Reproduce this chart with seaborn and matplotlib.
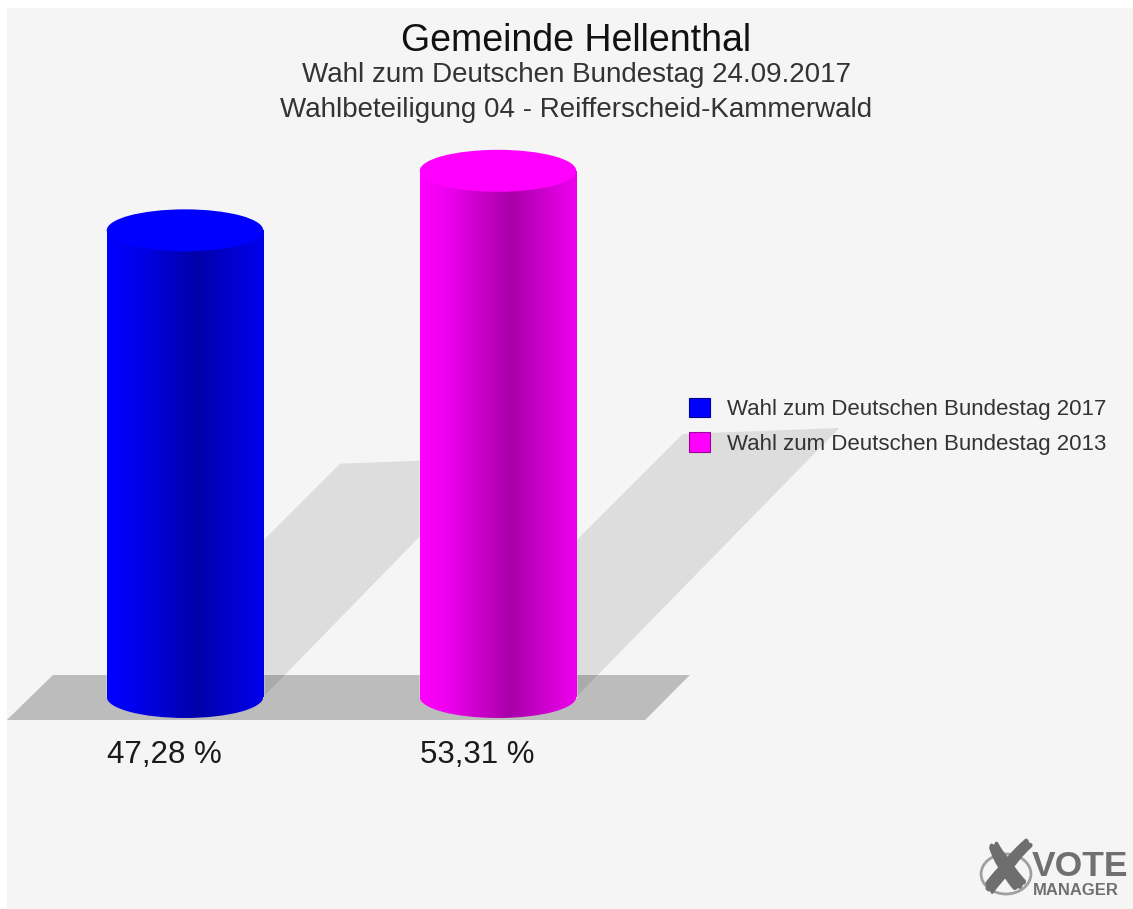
import numpy as np
import pandas as pd
import matplotlib
matplotlib.use("Agg")
import matplotlib.pyplot as plt
import seaborn as sns
from matplotlib.patches import Rectangle, Ellipse, Polygon, Circle

# ---------------- data ----------------
categories = ["Wahl zum Deutschen Bundestag 2017", "Wahl zum Deutschen Bundestag 2013"]
values = [47.28, 53.31]
value_labels = ["47,28 %", "53,31 %"]
colors = ["#0000ff", "#ff00ff"]
title = "Gemeinde Hellenthal"
subtitle1 = "Wahl zum Deutschen Bundestag 24.09.2017"
subtitle2 = "Wahlbeteiligung 04 - Reifferscheid-Kammerwald"

sns.set_theme(style="white")
plt.rcParams["font.family"] = ["Liberation Sans", "DejaVu Sans"]

W, H = 1133, 909
fig = plt.figure(figsize=(W / 100, H / 100), dpi=100, facecolor="white")
# light grey canvas with small white border top/left
fig.patches.append(Rectangle((7 / W, 0), 1, 1 - 8 / H, transform=fig.transFigure,
                             facecolor="#f5f5f5", edgecolor="none", zorder=-10))

ax = fig.add_axes([0, 0, 1, 1])
ax.patch.set_alpha(0)

df = pd.DataFrame({"cat": categories, "val": values})
sns.barplot(data=df, x="cat", y="val", hue="cat", palette=colors, width=0.5,
            errorbar=None, ax=ax, legend=True, zorder=3, saturation=1)

# axis mapping (pixel geometry of the reference)
PX_PER_X = 313.0
PX_PER_Y = 9.87
X0_PX, BASE_PX = 185.0, 697.0
xlim = (-X0_PX / PX_PER_X, (W - X0_PX) / PX_PER_X)
ylim = (-(H - BASE_PX) / PX_PER_Y, BASE_PX / PX_PER_Y)

ell_h = 42 / PX_PER_Y  # ellipse height in data units

# floor
floor_top, floor_bot = 22 / PX_PER_Y, -23 / PX_PER_Y
floor = Polygon([(-0.422, floor_top), (1.613, floor_top), (1.470, floor_bot), (-0.569, floor_bot)],
                closed=True, facecolor="#bcbcbc", edgecolor="none", zorder=1)
ax.add_patch(floor)

def shade_profile(n=200):
    t = np.linspace(0, 1, n)
    return np.interp(t, [0, 0.18, 0.58, 0.85, 1.0], [1.0, 0.93, 0.66, 0.84, 0.93])

prof = shade_profile()
bars = [p for p in ax.patches if isinstance(p, Rectangle) and p.get_height() > 0]
for bar, col in zip(bars, colors):
    x0 = bar.get_x()
    w = bar.get_width()
    h = bar.get_height()
    xc = x0 + w / 2
    # shadow on back wall (45 deg, half height)
    s_px = 0.5 * h * PX_PER_Y
    dx = s_px / PX_PER_X
    dy = 0.5 * h
    shadow = Polygon([(x0, 0), (x0 + w, 0), (x0 + w + dx, dy + 0.6), (x0 + dx, dy)],
                     closed=True, facecolor="black", alpha=0.095, edgecolor="none", zorder=2)
    ax.add_patch(shadow)

    rgb = np.array(matplotlib.colors.to_rgb(col))
    grad = (prof[:, None] * rgb[None, :])[None, :, :]
    bar.set_zorder(3)
    im = ax.imshow(grad, extent=[x0, x0 + w, -ell_h, h], aspect="auto",
                   interpolation="bilinear", zorder=3.1)
    im.set_clip_path(bar)
    bottom = Ellipse((xc, 0), w, ell_h, facecolor="none", edgecolor="none", zorder=3)
    ax.add_patch(bottom)
    im2 = ax.imshow(grad, extent=[x0, x0 + w, -ell_h, h], aspect="auto",
                    interpolation="bilinear", zorder=3.1)
    im2.set_clip_path(bottom)
    top = Ellipse((xc, h), w, ell_h, facecolor=col, edgecolor="none", zorder=4)
    ax.add_patch(top)

for bar, lab in zip(bars, value_labels):
    ax.text(bar.get_x(), -(763 - BASE_PX) / PX_PER_Y, lab, ha="left", va="baseline",
            fontsize=22.5, color="#1a1a1a", zorder=5)

ax.set_xlim(*xlim)
ax.set_ylim(*ylim)
ax.set_axis_off()

# legend
handles, labels = ax.get_legend_handles_labels()
leg = ax.legend(handles, labels, loc="upper left", bbox_to_anchor=(689 / W, 1 - 398 / H),
                bbox_transform=fig.transFigure, frameon=False, fontsize=16,
                handlelength=0.95, handleheight=0.95, handletextpad=0.75,
                labelspacing=0.55, borderpad=0, borderaxespad=0)
for t in leg.get_texts():
    t.set_color("#333333")
for hnd, col in zip(leg.legend_handles, colors):
    hnd.set_facecolor(col)
    hnd.set_alpha(1)
    hnd.set_edgecolor(tuple(0.6 * np.array(matplotlib.colors.to_rgb(col))))
    hnd.set_linewidth(0.8)

# titles
fig.text(576 / W, 1 - 51 / H, title, ha="center", va="baseline", fontsize=27, color="#111111")
fig.text(576 / W, 1 - 82 / H, subtitle1, ha="center", va="baseline", fontsize=20, color="#333333")
fig.text(576 / W, 1 - 117 / H, subtitle2, ha="center", va="baseline", fontsize=20, color="#333333")

# logo
fig.patches.append(Circle((1006 / W, 1 - 874 / H), 0.022, transform=fig.transFigure,
                          facecolor="none", edgecolor="#a0a0a0", lw=2.0, zorder=5))
fig.text(1007 / W, 1 - 873 / H, "✘", ha="center", va="center", fontsize=54,
         color="#6e6e6e", family="DejaVu Sans", zorder=6)
fig.text(1032 / W, 1 - 876 / H, "VOTE", ha="left", va="baseline", fontsize=25.5,
         fontweight="bold", color="#707070")
fig.text(1033 / W, 1 - 895 / H, "MANAGER", ha="left", va="baseline", fontsize=12,
         fontweight="bold", color="#707070")

fig.savefig("out.png", dpi=100, facecolor="white")
